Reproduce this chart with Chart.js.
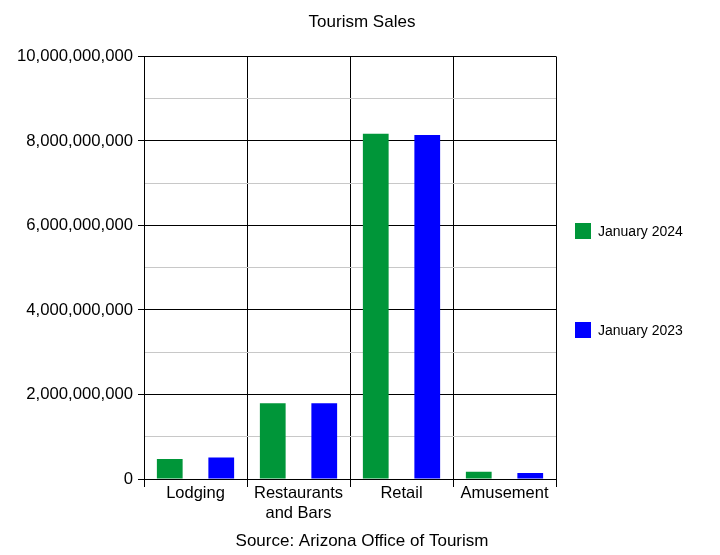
<!DOCTYPE html>
<html>
<head>
<meta charset="utf-8">
<script src="https://cdn.jsdelivr.net/npm/chart.js@4.4.1/dist/chart.umd.min.js"></script>
<style>
    html, body { margin: 0; padding: 0; background: #fff; }
    #wrap { width: 720px; height: 555px; }
</style>
</head>
<body>
<div id="wrap"><canvas id="tourismChart"></canvas></div>
<script>
// Chart data
var categories = ['Lodging', ['Restaurants', 'and Bars'], 'Retail', 'Amusement'];
var seriesNames = ['January 2024', 'January 2023'];
var jan2024 = [476000000, 1795000000, 8170000000, 174000000];
var jan2023 = [510000000, 1795000000, 8140000000, 143000000];
var yTicks = [0, 2000000000, 4000000000, 6000000000, 8000000000, 10000000000];

var green = '#009639';
var blue = '#0000ff';
var fontFamily = '"Liberation Sans", Arial, sans-serif';

Chart.defaults.font.family = fontFamily;
Chart.defaults.color = '#000';

// ------------------------------------------------------- //
// Legend on the right, two items far apart
// ------------------------------------------------------ //
var sideLegend = {
    id: 'sideLegend',
    afterDraw: function (chart) {
        var ctx = chart.ctx;
        ctx.save();
        chart.data.datasets.forEach(function (ds, i) {
            var y = 223 + i * 99;
            ctx.fillStyle = ds.backgroundColor;
            ctx.fillRect(575, y, 16, 16);
            ctx.fillStyle = '#000';
            ctx.font = '14px ' + fontFamily;
            ctx.textBaseline = 'middle';
            ctx.textAlign = 'left';
            ctx.fillText(ds.label, 598, y + 9);
        });
        ctx.restore();
    }
};

function isMajor(v) {
    return yTicks.indexOf(v) !== -1;
}

var tourismChart = new Chart(document.getElementById('tourismChart'), {
    type: 'bar',
    data: {
        labels: categories,
        datasets: [
            { label: seriesNames[0], data: jan2024, backgroundColor: green, borderWidth: 0 },
            { label: seriesNames[1], data: jan2023, backgroundColor: blue, borderWidth: 0 }
        ]
    },
    options: {
        responsive: true,
        maintainAspectRatio: false,
        animation: false,
        layout: { padding: { left: 4, right: 0, top: 0, bottom: 0 } },
        datasets: {
            bar: { categoryPercentage: 1.0, barPercentage: 0.5 }
        },
        plugins: {
            legend: { display: false },
            tooltip: { enabled: false },
            title: {
                display: true,
                text: 'Tourism Sales',
                font: { size: 17, weight: 'normal' },
                padding: { top: 12, bottom: 24 }
            },
            subtitle: {
                display: true,
                position: 'bottom',
                text: 'Source: Arizona Office of Tourism',
                font: { size: 17, weight: 'normal' },
                padding: { top: 11, bottom: 3 }
            }
        },
        scales: {
            x: {
                grid: {
                    offset: true,
                    color: '#000',
                    lineWidth: 1,
                    tickLength: 8,
                    tickColor: '#000'
                },
                border: { color: '#000', width: 1 },
                ticks: {
                    font: { size: 16.5 },
                    padding: -3,
                    maxRotation: 0,
                    autoSkip: false
                }
            },
            y: {
                min: 0,
                max: 10000000000,
                afterFit: function (scale) {
                    scale.width = 140;
                },
                ticks: {
                    stepSize: 1000000000,
                    font: { size: 16.7 },
                    padding: 5,
                    callback: function (v) {
                        return isMajor(v) ? v.toLocaleString('en-US') : '';
                    }
                },
                grid: {
                    tickLength: 6,
                    color: function (c) {
                        return isMajor(c.tick.value) ? '#000' : '#c8c8c8';
                    },
                    tickColor: function (c) {
                        return isMajor(c.tick.value) ? '#000' : 'rgba(0,0,0,0)';
                    }
                },
                border: { color: '#000', width: 1 }
            },
            // empty right-hand box that keeps room for the legend
            legendSpace: {
                type: 'linear',
                position: 'right',
                display: true,
                afterFit: function (scale) {
                    scale.width = 164;
                },
                grid: { display: false },
                border: { display: false },
                ticks: { display: false }
            }
        }
    },
    plugins: [sideLegend]
});
</script>
</body>
</html>
